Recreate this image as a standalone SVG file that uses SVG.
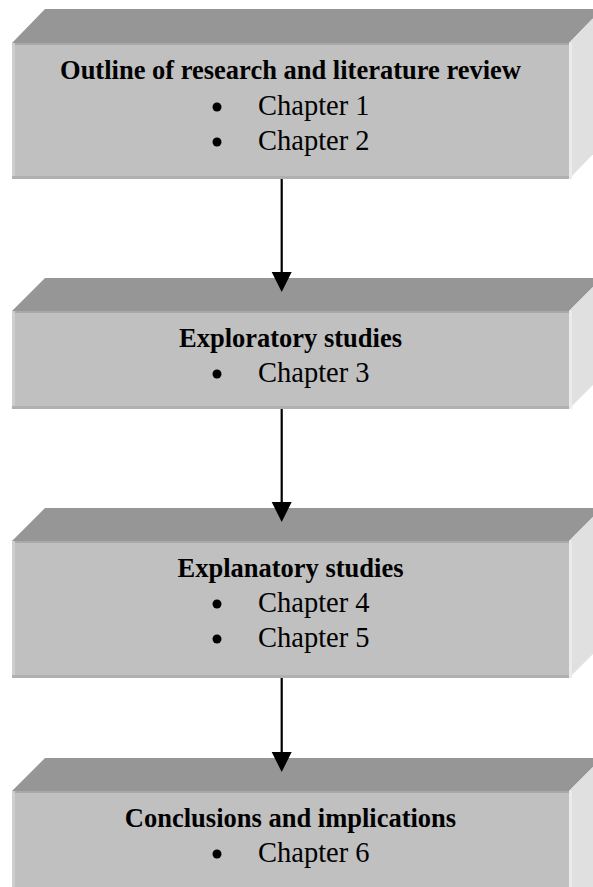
<svg xmlns="http://www.w3.org/2000/svg" width="593" height="887" viewBox="0 0 593 887">
  <style>
    .top { fill: #969696; }
    .front { fill: #c0c0c0; }
    .side { fill: #e0e0e0; }
    .sideedge { fill: #ebebeb; }
    .ledge { fill: #cecece; }
    .bedge { fill: #b0b0b0; }
    .tedge { fill: #a9a9a9; }
    .title { font-family: "Liberation Serif", "Times New Roman", serif; font-weight: bold; font-size: 26.5px; fill: #000; text-anchor: middle; }
    .item { font-family: "Liberation Serif", "Times New Roman", serif; font-size: 28.5px; fill: #000; }
    .bullet { fill: #000; }
    .conn { stroke: #000; stroke-width: 2.2; fill: none; }
    .head { fill: #000; }
  </style>

  <!-- Block 1: 3D block, front face x 12..569, depth 33 -->
  <g id="node-outline">
    <polygon class="top" points="12,43 45,9 602,9 569,43"/>
    <polygon class="side" points="569,43 602,9 602,145 569,179"/>
    <rect class="sideedge" x="569" y="43" width="3" height="136"/>
    <rect class="front" x="12" y="43" width="557" height="136"/>
    <rect class="tedge" x="12" y="43" width="557" height="2"/>
    <rect class="ledge" x="12" y="43" width="3" height="136"/>
    <rect class="bedge" x="12" y="176" width="557" height="3"/>
    <text class="title" x="290.5" y="79">Outline of research and literature review</text>
    <circle class="bullet" cx="217" cy="107" r="4.5"/>
    <text class="item" x="258" y="115">Chapter 1</text>
    <circle class="bullet" cx="217" cy="142" r="4.5"/>
    <text class="item" x="258" y="150">Chapter 2</text>
  </g>

  <!-- Block 2 -->
  <g id="node-exploratory">
    <polygon class="top" points="12,311 45,278 602,278 569,311"/>
    <polygon class="side" points="569,311 602,278 602,376 569,409"/>
    <rect class="sideedge" x="569" y="311" width="3" height="98"/>
    <rect class="front" x="12" y="311" width="557" height="98"/>
    <rect class="tedge" x="12" y="311" width="557" height="2"/>
    <rect class="ledge" x="12" y="311" width="3" height="98"/>
    <rect class="bedge" x="12" y="406" width="557" height="3"/>
    <text class="title" x="290.5" y="347">Exploratory studies</text>
    <circle class="bullet" cx="217" cy="374" r="4.5"/>
    <text class="item" x="258" y="382">Chapter 3</text>
  </g>

  <!-- Block 3 -->
  <g id="node-explanatory">
    <polygon class="top" points="12,541 45,508 602,508 569,541"/>
    <polygon class="side" points="569,541 602,508 602,645 569,678"/>
    <rect class="sideedge" x="569" y="541" width="3" height="137"/>
    <rect class="front" x="12" y="541" width="557" height="137"/>
    <rect class="tedge" x="12" y="541" width="557" height="2"/>
    <rect class="ledge" x="12" y="541" width="3" height="137"/>
    <rect class="bedge" x="12" y="675" width="557" height="3"/>
    <text class="title" x="290.5" y="577">Explanatory studies</text>
    <circle class="bullet" cx="217" cy="604" r="4.5"/>
    <text class="item" x="258" y="612">Chapter 4</text>
    <circle class="bullet" cx="217" cy="639" r="4.5"/>
    <text class="item" x="258" y="647">Chapter 5</text>
  </g>

  <!-- Block 4 (runs past the bottom edge) -->
  <g id="node-conclusions">
    <polygon class="top" points="12,791 45,758 602,758 569,791"/>
    <polygon class="side" points="569,791 602,758 602,887 569,887"/>
    <rect class="sideedge" x="569" y="791" width="3" height="96"/>
    <rect class="front" x="12" y="791" width="557" height="96"/>
    <rect class="tedge" x="12" y="791" width="557" height="2"/>
    <rect class="ledge" x="12" y="791" width="3" height="96"/>
    <text class="title" x="290.5" y="827">Conclusions and implications</text>
    <circle class="bullet" cx="217" cy="854" r="4.5"/>
    <text class="item" x="258" y="862">Chapter 6</text>
  </g>

  <!-- Connectors -->
  <g id="connectors">
    <line class="conn" x1="281.7" y1="179" x2="281.7" y2="274"/>
    <polygon class="head" points="271.7,272 291.7,272 281.7,292"/>
    <line class="conn" x1="281.7" y1="409" x2="281.7" y2="504"/>
    <polygon class="head" points="271.7,502 291.7,502 281.7,522"/>
    <line class="conn" x1="281.7" y1="678" x2="281.7" y2="754"/>
    <polygon class="head" points="271.7,752 291.7,752 281.7,772"/>
  </g>
</svg>
